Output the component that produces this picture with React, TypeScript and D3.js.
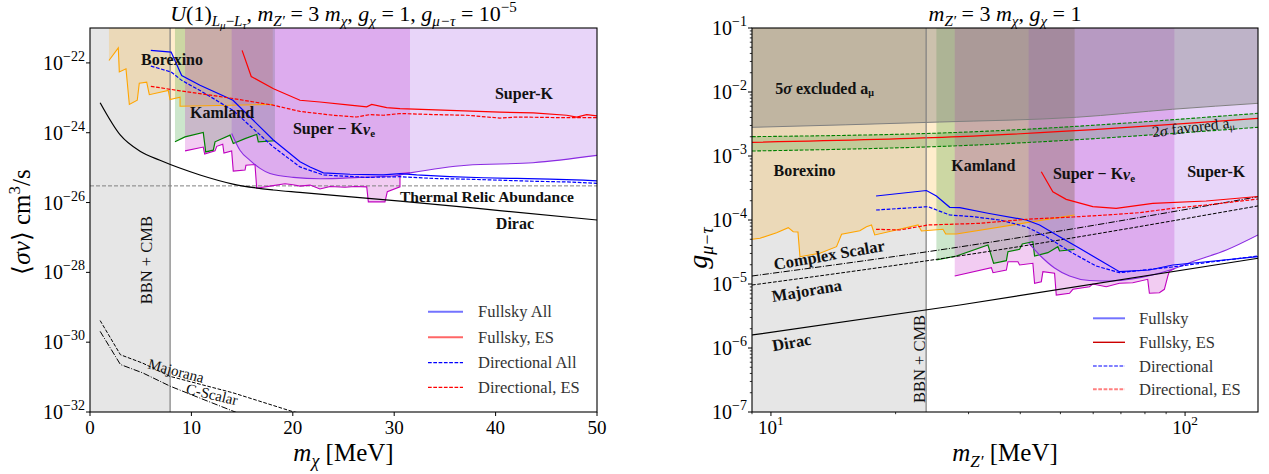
import React from "react";
import * as d3 from "d3";

type Pt = [number, number];

const FONT = "'Liberation Serif', 'Times New Roman', serif";

// ---------- left panel: values are [m_chi (MeV), log10 <sigma v> (cm^3/s)]
const mChiTicks = [0, 10, 20, 30, 40, 50];
const sigmaVTickExps = [-22, -24, -26, -28, -30, -32];
const bbnCmbMchi = 7.9;
const thermalRelicSigmaV = 3e-26;

const borexinoSV: Pt[] = [
  [1.87, -21.93], [2.79, -21.57], [2.89, -22.26], [3.55, -22.17], [3.88, -23.19],
  [4.66, -23.07], [4.86, -22.58], [5.59, -22.55], [5.85, -22.91], [7.72, -22.79],
  [7.89, -23.05], [8.88, -22.98], [8.88, -23.24], [18.02, -23.19],
];
const kamlandSV: Pt[] = [
  [8.38, -24.26], [9.37, -24.12], [11.17, -23.99], [11.41, -24.55], [12.16, -24.5],
  [12.33, -24.26], [13.81, -24.07], [14.13, -24.31], [15.29, -24.17], [16.44, -24.05],
  [16.6, -24.26], [18.24, -24.23],
];
const superKnueSV: Pt[] = [
  [9.37, -24.52], [11.17, -24.41], [11.31, -24.61], [12.33, -24.52], [12.5, -24.39],
  [13.09, -24.33], [13.21, -24.58], [13.97, -24.52], [14.13, -25.1], [15.29, -25.07],
  [15.38, -24.93], [16.27, -24.91], [16.44, -25.59], [17.75, -25.53], [19.23, -25.46],
  [20.02, -25.49], [20.71, -25.53], [21.7, -25.5], [22.68, -25.61], [23.67, -25.54],
  [25.15, -25.56], [26.13, -25.54], [27.29, -25.55], [27.45, -25.98], [29.09, -25.98],
  [29.32, -25.69], [30.57, -25.55], [30.57, -25.17], [31.56, -25.15],
];
const superKSV: Pt[] = [
  [13.97, -24.02], [14.79, -24.5], [15.78, -24.79], [16.77, -25.02], [17.75, -25.17],
  [20.05, -25.28], [22.68, -25.32], [26.63, -25.28], [29.88, -25.24], [31.56, -25.15],
  [37.15, -24.93], [43.69, -24.86], [50, -24.65],
];
const fullskyAllSV: Pt[] = [
  [6, -21.64], [8, -21.69], [9.04, -22.36], [10.85, -22.64], [14.1, -23.07],
  [18.05, -24.2], [20.71, -24.83], [21.7, -24.98], [23.01, -25.15], [25.64, -25.19],
  [28.93, -25.21], [30.57, -25.17], [32.21, -25.21], [35.5, -25.26], [38.78, -25.29],
  [42.08, -25.31], [45.36, -25.33], [48.65, -25.36], [50, -25.38],
];
const directionalAllSV: Pt[] = [
  [6, -22.09], [8, -22.26], [9.04, -22.5], [10.85, -22.79], [14.1, -23.36],
  [18.05, -24.4], [20.71, -24.98], [23.01, -25.21], [27.29, -25.28], [30.57, -25.26],
  [33.86, -25.31], [37.15, -25.33], [40.43, -25.36], [43.72, -25.39], [47.01, -25.41],
  [50, -25.45],
];
const fullskyESSV: Pt[] = [
  [15, -21.64], [15.9, -22.39], [18.1, -22.74], [20.71, -23.07], [22.68, -23.12],
  [25.64, -23.21], [27.29, -23.26], [27.78, -23.19], [29.26, -23.28], [30.57, -23.31],
  [35.5, -23.36], [40.43, -23.41], [43.72, -23.43], [47.01, -23.5], [48, -23.55],
  [48.98, -23.48], [50, -23.52],
];
const directionalESSV: Pt[] = [
  [6, -22.67], [8.9, -22.8], [10.85, -22.88], [14.1, -23.02], [18.05, -23.21],
  [20.71, -23.39], [24.0, -23.5], [26.3, -23.55], [27.61, -23.48], [28.93, -23.5],
  [30.57, -23.45], [33.86, -23.48], [37.15, -23.5], [40.43, -23.58], [42.08, -23.55],
  [47.01, -23.57], [50, -23.57],
];
const diracSV: Pt[] = [
  [1, -23.14], [3, -24.07], [4.93, -24.53], [6.9, -24.79], [10.85, -25.21],
  [14.1, -25.47], [18.05, -25.64], [20.7, -25.71], [30.6, -25.96], [40.4, -26.23],
  [50, -26.5],
];
const majoranaSV: Pt[] = [
  [1, -29.38], [3, -30.36], [5.2, -30.6], [7.9, -30.98], [14.1, -31.45], [20, -31.99], [21, -32.05],
];
const cScalarSV: Pt[] = [
  [1, -29.69], [3, -30.64], [5.2, -30.88], [7.9, -31.26], [11, -31.62], [14.5, -32.02],
];

// ---------- right panel: values are [m_Z' (MeV), log10 g_{mu-tau}]
const mZMajorTicks = [10, 100];
const mZMinorTicks = [9, 20, 30, 40, 50, 60, 70, 80, 90];
const gTickExps = [-1, -2, -3, -4, -5, -6, -7];
const bbnCmbMZ = 23.7;

const amu5sigmaG: Pt[] = [[9, -2.552], [25.56, -2.469], [54.6, -2.395], [93.2, -2.27], [150, -2.177]];
const amuBandMZ = [9, 28.6, 150];
const amu2sigmaLowG = [-2.922, -2.839, -2.552];
const amu2sigmaHighG = [-2.698, -2.63, -2.333];
const amuCentralG = [-2.786, -2.698, -2.411];

const borexinoG: Pt[] = [
  [9, -4.302], [9.41, -4.286], [10.32, -4.198], [11.01, -4.12], [11.32, -4.183],
  [11.62, -4.188], [11.75, -4.573], [13.13, -4.52], [14.4, -4.417], [14.81, -4.223],
  [16.39, -4.167], [17.01, -4.105], [17.49, -4.078], [17.81, -4.234], [22.66, -4.078],
  [23.09, -4.172], [26.03, -4.145], [26.42, -4.219], [28.04, -4.219], [54.1, -3.922],
];
const kamlandG: Pt[] = [
  [25.09, -4.625], [28.04, -4.5625], [33.42, -4.391], [34.49, -4.677], [37.02, -4.636],
  [37.35, -4.495], [39.85, -4.458], [40.45, -4.375], [42.9, -4.339], [43.31, -4.5625],
  [46.64, -4.511], [49.29, -4.417], [49.76, -4.484], [54.1, -4.458],
];
const superKnueG: Pt[] = [
  [27.78, -4.875], [34.06, -4.745], [34.37, -4.823], [37.02, -4.781], [37.35, -4.652],
  [39.48, -4.652], [39.85, -4.703], [42.9, -4.677], [43.31, -4.989], [44.96, -4.964],
  [45.36, -4.808], [48.4, -4.833], [48.86, -5.172], [52.6, -5.145], [53.58, -5.083],
  [58.77, -5.042], [59.87, -5.0], [64.5, -5.042], [69.43, -4.989], [74.75, -4.98],
  [81.24, -4.927], [82.01, -5.145], [86.7, -5.136], [89.13, -5.083], [90.78, -4.886],
  [91.64, -4.8], [94.23, -4.76],
];
const superKG: Pt[] = [
  [41.9, -4.359], [44.53, -4.547], [48.4, -4.75], [52.6, -4.875], [58.77, -4.945],
  [66.8, -4.953], [74.6, -4.922], [83.4, -4.859], [93.2, -4.77], [104.1, -4.652],
  [125.8, -4.469], [150, -4.234],
];
const fullskyG: Pt[] = [
  [17.94, -3.625], [23.74, -3.539], [25.09, -3.625], [27.02, -3.802], [28.57, -3.808],
  [33.42, -3.895], [41.36, -4.0], [44.53, -4.078], [49.76, -4.261], [55.62, -4.442],
  [62.14, -4.625], [69.43, -4.808], [82.01, -4.781], [93.34, -4.703], [112.6, -4.652],
  [150, -4.573],
];
const directionalG: Pt[] = [
  [17.94, -3.844], [23.95, -3.792], [27.02, -3.922], [30.74, -3.948], [35.66, -4.0],
  [41.36, -4.105], [46.22, -4.261], [53.58, -4.52], [61.02, -4.719], [69.43, -4.823],
  [93.2, -4.734], [150, -4.5625],
];
const fullskyESG: Pt[] = [
  [44.96, -3.245], [47.94, -3.558], [51.64, -3.677], [59.87, -3.792], [68.18, -3.817],
  [83.55, -3.739], [112.4, -3.703], [150, -3.633],
];
const directionalESG: Pt[] = [
  [17.94, -4.145], [20.47, -4.156], [23.95, -4.078], [31.92, -4.052], [41.36, -3.989],
  [53.58, -3.953], [64.5, -3.922], [77.6, -3.886], [93.34, -3.817], [112.4, -3.766],
  [150, -3.672],
];
const complexScalarG: Pt[] = [[9, -4.875], [28.6, -4.42], [150, -3.636]];
const majoranaG: Pt[] = [[9, -5.016], [28.6, -4.56], [150, -3.78]];
const diracG: Pt[] = [[9, -5.797], [28.6, -5.328], [150, -4.598]];

// ---------- layout
const W = 1269;
const H = 474;
const LP = { x0: 90, x1: 597, y0: 28, y1: 412 };
const RP = { x0: 752, x1: 1258, y0: 28, y1: 412 };

const xL = d3.scaleLinear().domain([0, 50]).range([LP.x0, LP.x1]);
const yL = d3.scaleLog().domain([1e-32, 1e-21]).range([LP.y1, LP.y0]);
const xR = d3.scaleLog().domain([9, 150]).range([RP.x0, RP.x1]);
const yR = d3.scaleLog().domain([1e-7, 1e-1]).range([RP.y1, RP.y0]);

type XS = (v: number) => number;

function linePath(pts: Pt[], xs: XS, ys: XS, curve: d3.CurveFactory = d3.curveLinear) {
  return d3
    .line<Pt>()
    .x((d) => xs(d[0]))
    .y((d) => ys(Math.pow(10, d[1])))
    .curve(curve)(pts) as string;
}
function abovePath(pts: Pt[], xs: XS, ys: XS, top: number, curve: d3.CurveFactory = d3.curveLinear) {
  return d3
    .area<Pt>()
    .x((d) => xs(d[0]))
    .y0(top)
    .y1((d) => ys(Math.pow(10, d[1])))
    .curve(curve)(pts) as string;
}

const C = {
  grey: "#808080",
  orange: "#ffa500",
  green: "#008000",
  magenta: "#bf00bf",
  violet: "#8a2be2",
  blue: "#0000ff",
  red: "#ff0000",
};
const DASH = "3.7 1.6";
const DASHDOT = "6.4 1.6 1 1.6";

function Pow10({ x, y, exp, anchor, size }: { x: number; y: number; exp: number; anchor: string; size: number }) {
  const s = exp < 0 ? "\u2212" + -exp : String(exp);
  return (
    <text x={x} y={y} textAnchor={anchor as any} fontFamily={FONT} fontSize={size} fill="#000">
      <tspan>10</tspan>
      <tspan dy={-size * 0.45} fontSize={size * 0.7}>
        {s}
      </tspan>
    </text>
  );
}

function Label({
  x, y, rot = 0, size = 16, bold = true, children,
}: { x: number; y: number; rot?: number; size?: number; bold?: boolean; children: React.ReactNode }) {
  return (
    <text
      transform={`translate(${x},${y}) rotate(${rot})`}
      textAnchor="middle"
      dominantBaseline="central"
      fontFamily={FONT}
      fontSize={size}
      fontWeight={bold ? "bold" : "normal"}
      fill="#111"
    >
      {children}
    </text>
  );
}

type LegendEntry = { label: string; color: string; dash?: string; width: number; opacity: number };

function Legend({ x0, x1, tx, rows, entries }: { x0: number; x1: number; tx: number; rows: number[]; entries: LegendEntry[] }) {
  return (
    <g>
      {entries.map((e, i) => (
        <g key={e.label}>
          <line x1={x0} x2={x1} y1={rows[i]} y2={rows[i]} stroke={e.color} strokeWidth={e.width}
            strokeDasharray={e.dash} strokeOpacity={e.opacity} />
          <text x={tx} y={rows[i]} dominantBaseline="central" fontFamily={FONT} fontSize={16.5} fill="#333">
            {e.label}
          </text>
        </g>
      ))}
    </g>
  );
}

const leftLegend: LegendEntry[] = [
  { label: "Fullsky All", color: C.blue, width: 2, opacity: 0.55 },
  { label: "Fullsky, ES", color: C.red, width: 2, opacity: 0.6 },
  { label: "Directional All", color: C.blue, dash: DASH, width: 1.2, opacity: 1 },
  { label: "Directional, ES", color: C.red, dash: DASH, width: 1.2, opacity: 1 },
];
const rightLegend: LegendEntry[] = [
  { label: "Fullsky", color: C.blue, width: 2, opacity: 0.55 },
  { label: "Fullsky, ES", color: "#cc0000", width: 1.4, opacity: 1 },
  { label: "Directional", color: C.blue, dash: DASH, width: 1.2, opacity: 1 },
  { label: "Directional, ES", color: C.red, dash: DASH, width: 2, opacity: 0.5 },
];

function LeftPanel() {
  const top = LP.y0;
  const thermalY = yL(thermalRelicSigmaV);
  return (
    <g>
      <defs>
        <clipPath id="clipL">
          <rect x={LP.x0} y={LP.y0} width={LP.x1 - LP.x0} height={LP.y1 - LP.y0} />
        </clipPath>
      </defs>
      <g clipPath="url(#clipL)">
        <rect x={xL(0)} y={LP.y0} width={xL(bbnCmbMchi) - xL(0)} height={LP.y1 - LP.y0} fill={C.grey} fillOpacity={0.2} />
        <path d={abovePath(borexinoSV, xL, yL, top)} fill={C.orange} fillOpacity={0.2} />
        <path d={abovePath(kamlandSV, xL, yL, top)} fill={C.green} fillOpacity={0.2} />
        <path d={abovePath(superKnueSV, xL, yL, top)} fill={C.magenta} fillOpacity={0.2} />
        <path d={abovePath(superKSV, xL, yL, top, d3.curveMonotoneX)} fill={C.violet} fillOpacity={0.2} />

        <line x1={xL(bbnCmbMchi)} x2={xL(bbnCmbMchi)} y1={LP.y0} y2={LP.y1} stroke={C.grey} strokeWidth={1.2} />
        <line x1={LP.x0} x2={LP.x1} y1={thermalY} y2={thermalY} stroke={C.grey} strokeWidth={1} strokeDasharray="4 2" />

        <path d={linePath(borexinoSV, xL, yL)} fill="none" stroke={C.orange} strokeWidth={1.1} />
        <path d={linePath(kamlandSV, xL, yL)} fill="none" stroke={C.green} strokeWidth={1.2} />
        <path d={linePath(superKnueSV, xL, yL)} fill="none" stroke={C.magenta} strokeWidth={1.1} />
        <path d={linePath(superKSV, xL, yL, d3.curveMonotoneX)} fill="none" stroke={C.violet} strokeWidth={1.1} />

        <path d={linePath(diracSV, xL, yL, d3.curveMonotoneX)} fill="none" stroke="#000" strokeWidth={1.2} />
        <path d={linePath(majoranaSV, xL, yL)} fill="none" stroke="#000" strokeWidth={1} strokeDasharray={DASH} />
        <path d={linePath(cScalarSV, xL, yL)} fill="none" stroke="#000" strokeWidth={1} strokeDasharray={DASHDOT} />

        <path d={linePath(fullskyAllSV, xL, yL)} fill="none" stroke={C.blue} strokeWidth={1.2} />
        <path d={linePath(directionalAllSV, xL, yL)} fill="none" stroke={C.blue} strokeWidth={1.2} strokeDasharray={DASH} />
        <path d={linePath(fullskyESSV, xL, yL)} fill="none" stroke={C.red} strokeWidth={1.2} />
        <path d={linePath(directionalESSV, xL, yL)} fill="none" stroke={C.red} strokeWidth={1.2} strokeDasharray={DASH} />

        <Label x={xL(8.09)} y={yL(Math.pow(10, -21.89))}>Borexino</Label>
        <Label x={xL(13.02)} y={yL(Math.pow(10, -23.41))}>Kamland</Label>
        <Label x={xL(24.06)} y={yL(Math.pow(10, -23.89))}>
          Super − K<tspan fontStyle="italic">ν</tspan>
          <tspan dy={4} fontSize={11}>e</tspan>
        </Label>
        <Label x={xL(42.8)} y={yL(Math.pow(10, -22.89))}>Super-K</Label>
        <Label x={xL(39.15)} y={yL(Math.pow(10, -25.84))} size={15.5}>Thermal Relic Abundance</Label>
        <Label x={xL(41.91)} y={yL(Math.pow(10, -26.59))}>Dirac</Label>
        <Label x={xL(8.48)} y={yL(Math.pow(10, -30.82))} rot={15} size={15} bold={false}>Majorana</Label>
        <Label x={xL(12.03)} y={yL(Math.pow(10, -31.5))} rot={13.5} size={15} bold={false}>C-Scalar</Label>
        <Label x={xL(5.62)} y={yL(Math.pow(10, -27.65))} rot={-90} size={16.5} bold={false}>BBN + CMB</Label>
      </g>

      <rect x={LP.x0} y={LP.y0} width={LP.x1 - LP.x0} height={LP.y1 - LP.y0} fill="none" stroke="#000" strokeWidth={1.1} />

      {mChiTicks.map((t) => (
        <g key={t}>
          <line x1={xL(t)} x2={xL(t)} y1={LP.y1} y2={LP.y1 + 4} stroke="#000" strokeWidth={1} />
          <text x={xL(t)} y={LP.y1 + 22} textAnchor="middle" fontFamily={FONT} fontSize={19}>{t}</text>
        </g>
      ))}
      {sigmaVTickExps.map((e) => (
        <g key={e}>
          <line x1={LP.x0 - 4} x2={LP.x0} y1={yL(Math.pow(10, e))} y2={yL(Math.pow(10, e))} stroke="#000" strokeWidth={1} />
          <Pow10 x={LP.x0 - 5} y={yL(Math.pow(10, e)) + 7} exp={e} anchor="end" size={20} />
        </g>
      ))}

      <Legend x0={428} x1={463} tx={478} rows={[311.7, 337.3, 362.7, 387.3]} entries={leftLegend} />

      <text x={(LP.x0 + LP.x1) / 2} y={21} textAnchor="middle" fontFamily={FONT} fontSize={22}>
        <tspan fontStyle="italic">U</tspan>(1)
        <tspan dy={5} fontSize={15} fontStyle="italic">L</tspan>
        <tspan dy={3} fontSize={11} fontStyle="italic">μ</tspan>
        <tspan dy={-3} fontSize={15}>−</tspan>
        <tspan fontSize={15} fontStyle="italic">L</tspan>
        <tspan dy={3} fontSize={11} fontStyle="italic">τ</tspan>
        <tspan dy={-8}>, </tspan>
        <tspan fontStyle="italic">m</tspan>
        <tspan dy={5} fontSize={15} fontStyle="italic">Z′</tspan>
        <tspan dy={-5}> = 3 </tspan>
        <tspan fontStyle="italic">m</tspan>
        <tspan dy={5} fontSize={15} fontStyle="italic">χ</tspan>
        <tspan dy={-5}>, </tspan>
        <tspan fontStyle="italic">g</tspan>
        <tspan dy={5} fontSize={15} fontStyle="italic">χ</tspan>
        <tspan dy={-5}> = 1, </tspan>
        <tspan fontStyle="italic">g</tspan>
        <tspan dy={5} fontSize={15} fontStyle="italic">μ−τ</tspan>
        <tspan dy={-5}> = 10</tspan>
        <tspan dy={-9} fontSize={15}>−5</tspan>
      </text>

      <text x={(LP.x0 + LP.x1) / 2} y={461} textAnchor="middle" fontFamily={FONT} fontSize={25}>
        <tspan fontStyle="italic">m</tspan>
        <tspan dy={6} fontSize={18} fontStyle="italic">χ</tspan>
        <tspan dy={-6}> [MeV]</tspan>
      </text>
      <text transform="translate(30,222) rotate(-90)" textAnchor="middle" fontFamily={FONT} fontSize={25}>
        ⟨<tspan fontStyle="italic">σv</tspan>⟩ cm<tspan dy={-10} fontSize={17}>3</tspan>
        <tspan dy={10}>/s</tspan>
      </text>
    </g>
  );
}

function RightPanel() {
  const top = RP.y0;
  const band = amuBandMZ.map((m, i) => ({ m, lo: amu2sigmaLowG[i], hi: amu2sigmaHighG[i], c: amuCentralG[i] }));
  const bandPath = d3
    .area<{ m: number; lo: number; hi: number }>()
    .x((d) => xR(d.m))
    .y0((d) => yR(Math.pow(10, d.lo)))
    .y1((d) => yR(Math.pow(10, d.hi)))
    .curve(d3.curveMonotoneX)(band) as string;
  const bandLine = (key: "lo" | "hi" | "c") =>
    d3
      .line<{ m: number; lo: number; hi: number; c: number }>()
      .x((d) => xR(d.m))
      .y((d) => yR(Math.pow(10, d[key])))
      .curve(d3.curveMonotoneX)(band) as string;

  const minorY: number[] = [];
  for (let k = -7; k < -1; k++) for (let j = 2; j <= 9; j++) minorY.push(j * Math.pow(10, k));

  return (
    <g>
      <defs>
        <clipPath id="clipR">
          <rect x={RP.x0} y={RP.y0} width={RP.x1 - RP.x0} height={RP.y1 - RP.y0} />
        </clipPath>
      </defs>
      <g clipPath="url(#clipR)">
        <rect x={RP.x0} y={RP.y0} width={xR(bbnCmbMZ) - RP.x0} height={RP.y1 - RP.y0} fill={C.grey} fillOpacity={0.2} />
        <path d={abovePath(borexinoG, xR, yR, top)} fill={C.orange} fillOpacity={0.2} />
        <path d={abovePath(kamlandG, xR, yR, top)} fill={C.green} fillOpacity={0.2} />
        <path d={abovePath(superKnueG, xR, yR, top)} fill={C.magenta} fillOpacity={0.2} />
        <path d={abovePath(superKG, xR, yR, top, d3.curveMonotoneX)} fill={C.violet} fillOpacity={0.2} />
        <path d={abovePath(amu5sigmaG, xR, yR, top, d3.curveMonotoneX)} fill={C.grey} fillOpacity={0.4} />
        <path d={linePath(amu5sigmaG, xR, yR, d3.curveMonotoneX)} fill="none" stroke={C.grey} strokeWidth={1} />
        <path d={bandPath} fill={C.green} fillOpacity={0.17} />
        <path d={bandLine("lo")} fill="none" stroke={C.green} strokeWidth={1.1} strokeDasharray={DASH} />
        <path d={bandLine("hi")} fill="none" stroke={C.green} strokeWidth={1.1} strokeDasharray={DASH} />
        <path d={bandLine("c")} fill="none" stroke={C.red} strokeWidth={1.2} />

        <line x1={xR(bbnCmbMZ)} x2={xR(bbnCmbMZ)} y1={RP.y0} y2={RP.y1} stroke={C.grey} strokeWidth={1.2} />

        <path d={linePath(borexinoG, xR, yR)} fill="none" stroke={C.orange} strokeWidth={1.1} />
        <path d={linePath(kamlandG, xR, yR)} fill="none" stroke={C.green} strokeWidth={1.2} />
        <path d={linePath(superKnueG, xR, yR)} fill="none" stroke={C.magenta} strokeWidth={1.1} />
        <path d={linePath(superKG, xR, yR, d3.curveMonotoneX)} fill="none" stroke={C.violet} strokeWidth={1.1} />

        <path d={linePath(diracG, xR, yR, d3.curveMonotoneX)} fill="none" stroke="#000" strokeWidth={1.2} />
        <path d={linePath(majoranaG, xR, yR, d3.curveMonotoneX)} fill="none" stroke="#000" strokeWidth={1} strokeDasharray={DASH} />
        <path d={linePath(complexScalarG, xR, yR, d3.curveMonotoneX)} fill="none" stroke="#000" strokeWidth={1} strokeDasharray={DASHDOT} />

        <path d={linePath(fullskyG, xR, yR)} fill="none" stroke={C.blue} strokeWidth={1.2} />
        <path d={linePath(directionalG, xR, yR)} fill="none" stroke={C.blue} strokeWidth={1.2} strokeDasharray={DASH} />
        <path d={linePath(fullskyESG, xR, yR)} fill="none" stroke={C.red} strokeWidth={1.2} />
        <path d={linePath(directionalESG, xR, yR)} fill="none" stroke={C.red} strokeWidth={1.2} strokeDasharray={DASH} />

        <Label x={xR(13.48)} y={yR(Math.pow(10, -1.942))}>
          5<tspan fontStyle="italic">σ</tspan> excluded a<tspan dy={4} fontSize={10}>μ</tspan>
        </Label>
        <Label x={xR(104.7)} y={yR(Math.pow(10, -2.542))} rot={-6.6} size={15.5} bold={false}>
          2<tspan fontStyle="italic">σ</tspan> favored a<tspan dy={4} fontSize={10}>μ</tspan>
        </Label>
        <Label x={xR(12.05)} y={yR(Math.pow(10, -3.23))}>Borexino</Label>
        <Label x={xR(32.56)} y={yR(Math.pow(10, -3.151))}>Kamland</Label>
        <Label x={xR(60.26)} y={yR(Math.pow(10, -3.281))}>
          Super − K<tspan fontStyle="italic">ν</tspan>
          <tspan dy={4} fontSize={11}>e</tspan>
        </Label>
        <Label x={xR(118.9)} y={yR(Math.pow(10, -3.245))}>Super-K</Label>
        <Label x={xR(13.82)} y={yR(Math.pow(10, -4.547))} rot={-9.9} size={16.5}>Complex Scalar</Label>
        <Label x={xR(12.2)} y={yR(Math.pow(10, -5.106))} rot={-9.5} size={16.5}>Majorana</Label>
        <Label x={xR(11.22)} y={yR(Math.pow(10, -5.914))} rot={-10} size={16.5}>Dirac</Label>
        <Label x={xR(22.8)} y={yR(Math.pow(10, -6.172))} rot={-90} size={16.5} bold={false}>BBN + CMB</Label>
      </g>

      <rect x={RP.x0} y={RP.y0} width={RP.x1 - RP.x0} height={RP.y1 - RP.y0} fill="none" stroke="#000" strokeWidth={1.1} />

      {mZMajorTicks.map((t) => (
        <g key={t}>
          <line x1={xR(t)} x2={xR(t)} y1={RP.y1} y2={RP.y1 + 4} stroke="#000" strokeWidth={1} />
          <Pow10 x={xR(t)} y={RP.y1 + 22} exp={Math.round(Math.log10(t))} anchor="middle" size={19} />
        </g>
      ))}
      {mZMinorTicks.map((t) => (
        <line key={t} x1={xR(t)} x2={xR(t)} y1={RP.y1} y2={RP.y1 + 2.2} stroke="#000" strokeWidth={0.8} />
      ))}
      {gTickExps.map((e) => (
        <g key={e}>
          <line x1={RP.x0 - 4} x2={RP.x0} y1={yR(Math.pow(10, e))} y2={yR(Math.pow(10, e))} stroke="#000" strokeWidth={1} />
          <Pow10 x={RP.x0 - 5} y={yR(Math.pow(10, e)) + 7} exp={e} anchor="end" size={20} />
        </g>
      ))}
      {minorY.map((v, i) => (
        <line key={i} x1={RP.x0 - 2.2} x2={RP.x0} y1={yR(v)} y2={yR(v)} stroke="#000" strokeWidth={0.8} />
      ))}

      <Legend x0={1093} x1={1125} tx={1139} rows={[318.3, 342.3, 366, 389.3]} entries={rightLegend} />

      <text x={(RP.x0 + RP.x1) / 2} y={21} textAnchor="middle" fontFamily={FONT} fontSize={22}>
        <tspan fontStyle="italic">m</tspan>
        <tspan dy={5} fontSize={15} fontStyle="italic">Z′</tspan>
        <tspan dy={-5}> = 3 </tspan>
        <tspan fontStyle="italic">m</tspan>
        <tspan dy={5} fontSize={15} fontStyle="italic">χ</tspan>
        <tspan dy={-5}>, </tspan>
        <tspan fontStyle="italic">g</tspan>
        <tspan dy={5} fontSize={15} fontStyle="italic">χ</tspan>
        <tspan dy={-5}> = 1</tspan>
      </text>

      <text x={(RP.x0 + RP.x1) / 2} y={461} textAnchor="middle" fontFamily={FONT} fontSize={25}>
        <tspan fontStyle="italic">m</tspan>
        <tspan dy={6} fontSize={17} fontStyle="italic">Z′</tspan>
        <tspan dy={-6}> [MeV]</tspan>
      </text>
      <text transform="translate(707,248) rotate(-90)" textAnchor="middle" fontFamily={FONT} fontSize={28}>
        <tspan fontStyle="italic">g</tspan>
        <tspan dy={6} fontSize={18} fontStyle="italic">μ−τ</tspan>
      </text>
    </g>
  );
}

export default function App() {
  return (
    <svg width={W} height={H} viewBox={`0 0 ${W} ${H}`} style={{ position: "absolute", left: 0, top: 0, background: "#fff" }}>
      <rect width={W} height={H} fill="#fff" />
      <LeftPanel />
      <RightPanel />
    </svg>
  );
}
